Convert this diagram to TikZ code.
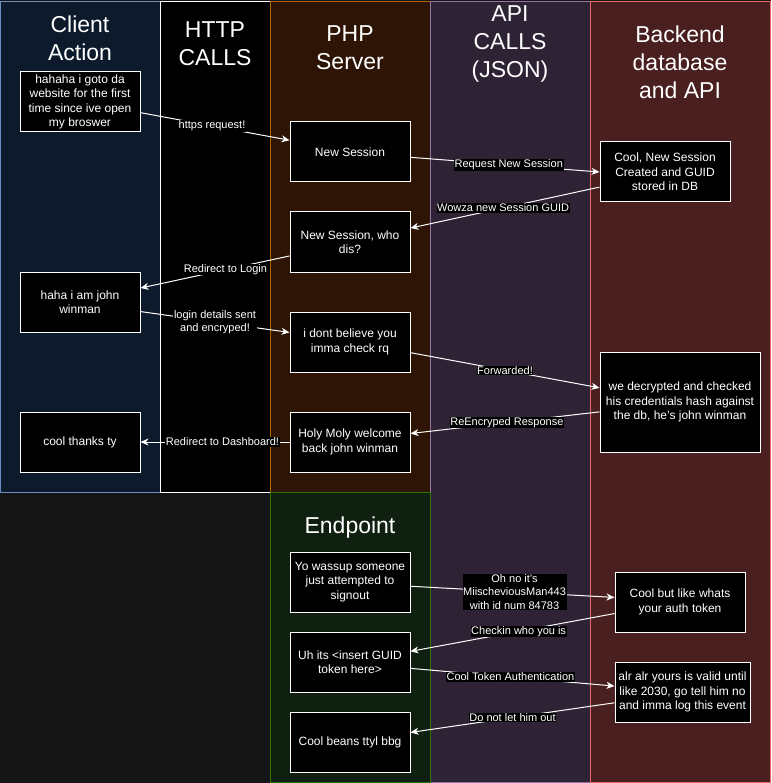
\documentclass[tikz,border=0pt]{standalone}
\usepackage{fontspec}
\setmainfont{Liberation Sans}
\usetikzlibrary{positioning,arrows.meta}

\definecolor{pagebg}{HTML}{151515}
\definecolor{clientfill}{HTML}{0C1A2C}
\definecolor{clientline}{HTML}{6C8EBF}
\definecolor{phpfill}{HTML}{2D1404}
\definecolor{phpline}{HTML}{B46504}
\definecolor{apifill}{HTML}{2E2235}
\definecolor{apiline}{HTML}{9673A6}
\definecolor{dbfill}{HTML}{4A1F1F}
\definecolor{dbline}{HTML}{EA6B66}
\definecolor{epfill}{HTML}{0F2010}
\definecolor{epline}{HTML}{2D7600}

\begin{document}
\begin{tikzpicture}[x=1pt, y=-1pt,
lane/.style={line width=1pt},
title/.style={text=white, align=center, font=\fontsize{23}{28}\selectfont},
box/.style={rectangle, draw=white, fill=black, text=white, line width=1pt, minimum width=120pt, minimum height=60pt, inner sep=1pt, align=center, font=\fontsize{12}{14.4}\selectfont},
lbl/.style={fill=black, text=white, inner sep=0.6pt, align=center, font=\fontsize{11}{13.2}\selectfont},
link/.style={draw=white, line width=1pt, -{Stealth[length=8pt, width=7pt, inset=2.5pt]}}
]
\fill[pagebg] (0,0) rectangle (771,783);
\useasboundingbox (0,0) rectangle (771,783);

% lanes
\draw[lane, fill=clientfill, draw=clientline] (0,2) rectangle (160,492);
\draw[lane, fill=black, draw=white] (160,2) rectangle (270,492);
\draw[lane, fill=phpfill, draw=phpline] (270,2) rectangle (430,492);
\draw[lane, fill=apifill, draw=apiline] (430,2) rectangle (590,782);
\draw[lane, fill=dbfill, draw=dbline] (590,2) rectangle (770,782);
\draw[lane, fill=epfill, draw=epline] (270,492) rectangle (430,782);

\node[title] (client_head) at (80,38) {Client\\Action};
\node[title] (http_head) at (215,44) {HTTP\\CALLS};
\node[title] (php_head) at (350,48) {PHP\\Server};
\node[title] (api_head) at (510,44) {API\\CALLS\\(JSON)};
\node[title] (db_head) at (680,62) {Backend\\database\\and API};
\node[title] (ep_head) at (350,528) {Endpoint};

% client side
\node[box] (client_visit) at (80,102) {hahaha i goto da\\website for the first\\time since ive open\\my broswer};
\node[box] (client_login) at (80,302) {haha i am john\\winman};
\node[box, below=79pt of client_login] (client_done) {cool thanks ty};

% php server
\node[box] (php_new) at (350,152) {New Session};
\node[box, below=29pt of php_new] (php_who) {New Session, who\\dis?};
\node[box, below=39pt of php_who] (php_check) {i dont believe you\\imma check rq};
\node[box, below=39pt of php_check] (php_welcome) {Holy Moly welcome\\back john winman};

% endpoint
\node[box] (ep_signout) at (350,582) {Yo wassup someone\\just attempted to\\signout};
\node[box, below=19pt of ep_signout] (ep_token) {Uh its <insert GUID\\token here>};
\node[box, below=19pt of ep_token] (ep_bye) {Cool beans ttyl bbg};

% backend
\node[box, minimum width=130pt] (db_created) at (665,172) {Cool, New Session\\Created and GUID\\stored in DB};
\node[box, minimum width=160pt, minimum height=100pt] (db_checked) at (680,402) {we decrypted and checked\\his credentials hash against\\the db, he's john winman};
\node[box, minimum width=130pt] (db_auth) at (680,602) {Cool but like whats\\your auth token};
\node[box, minimum width=135pt] (db_valid) at (682.5,692) {alr alr yours is valid until\\like 2030, go tell him no\\and imma log this event};

% calls
\draw[link] (client_visit.-10) -- node[lbl, pos=0.48]{https request!} (php_new.169);
\draw[link] (php_new.-5) -- node[lbl, pos=0.52]{Request New Session} (db_created.west);
\draw[link] (db_created.193) -- node[lbl, pos=0.51]{Wowza new Session GUID} (php_who.13);
\draw[link] (php_who.193) -- node[lbl, pos=0.43]{Redirect to Login} (client_login.13);
\draw[link] (client_login.-9) -- node[lbl, pos=0.5]{login details sent\\and encryped!} (php_check.171);
\draw[link] (php_check.-10) -- node[lbl, pos=0.5]{Forwarded!} (db_checked.170);
\draw[link] (db_checked.187) -- node[lbl, pos=0.49]{ReEncryped Response} (php_welcome.8);
\draw[link] (php_welcome.west) -- node[lbl, pos=0.45]{Redirect to Dashboard!} (client_done.east);

\draw[link] (ep_signout.-4) -- node[lbl, pos=0.51]{Oh no it's\\MiischeviousMan443\\with id num 84783} (db_auth.176);
\draw[link] (db_auth.190) -- node[lbl, pos=0.47]{Checkin who you is} (ep_token.10);
\draw[link] (ep_token.-6) -- node[lbl, pos=0.49]{Cool Token Authentication} (db_valid.175);
\draw[link] (db_valid.189) -- node[lbl, pos=0.5]{Do not let him out} (ep_bye.9);
\end{tikzpicture}
\end{document}
